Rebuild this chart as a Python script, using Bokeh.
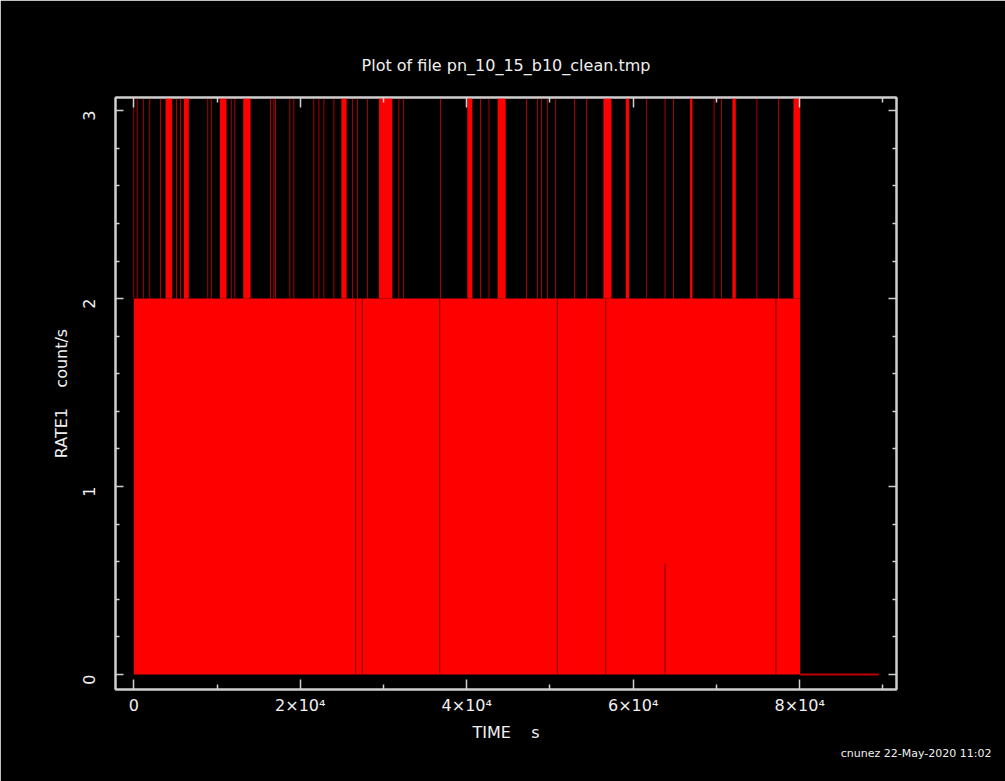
from bokeh.plotting import figure
from bokeh.models import Range1d, FixedTicker, LinearAxis, CustomJSTickFormatter, Title
from bokeh.embed import file_html
from bokeh.resources import INLINE

# ---- data ----
# main plateau level (count/s) between start/stop times (s)
seg_start = [0.0, 80050.0]
seg_stop = [80050.0, 89500.0]
seg_rate = [2.0, 0.0]

# bins with rate above the top of the plot (>= 3 count/s), start/stop times (s)
spike_start = [-40, 360, 1090, 1880, 3170, 3810, 5090, 5570, 6010, 8850, 9260, 10340,
               11660, 12100, 13150, 16390, 16790, 16990, 18710, 19190, 21590, 22200,
               22800, 24000, 24930, 26210, 26810, 28010, 29450, 31810, 32340, 36820,
               40070, 41630, 42630, 43710, 47160, 48440, 48960, 49650, 50650, 52930,
               54370, 56420, 59100, 61530, 63780, 64790, 66830, 69670, 70560, 71920,
               74820, 77410, 79250]
spike_stop = [40, 440, 1170, 1960, 3250, 4620, 5170, 5650, 6610, 8930, 9340, 11140,
              11740, 12180, 14030, 16470, 16870, 17070, 18790, 19270, 21670, 22280,
              22880, 24080, 25570, 26290, 26890, 28090, 31060, 31890, 32420, 36900,
              40670, 41710, 42710, 44680, 47240, 48520, 49040, 49730, 50730, 53010,
              54450, 57380, 59500, 61610, 63860, 64870, 67110, 69750, 70640, 72320,
              74900, 77490, 80050]
spike_rate = [3.2] * len(spike_start)

# short drops of the rate (gaps), time (s) and rate range
dip_time = [26650, 27450, 36740, 50890, 56690, 63820, 77130]
dip_low = [0, 0, 0, 0, 0, 0, 0]
dip_high = [2.0, 2.0, 2.0, 2.0, 2.0, 0.59, 2.0]

x_major = [0, 20000, 40000, 60000, 80000]
x_minor = [10000, 30000, 50000, 70000, 90000]
y_major = [0, 1, 2, 3]
y_minor = [0.2, 0.4, 0.6, 0.8, 1.2, 1.4, 1.6, 1.8, 2.2, 2.4, 2.6, 2.8]

GRID = "#cfcfcf"
TXT = "#f0f0f0"
RED = "#ff0000"
FONT = "DejaVu Sans"
SP = "\u00a0"

p = figure(width=1005, height=781, output_backend="svg", toolbar_location=None,
           x_range=Range1d(-2200, 91630), y_range=Range1d(-0.08, 3.07),
           x_axis_type=None, y_axis_type=None,
           background_fill_color="black", border_fill_color="black",
           min_border_left=115, min_border_right=109, min_border_top=97,
           min_border_bottom=92)
p.grid.visible = False
p.outline_line_color = GRID
p.outline_line_width = 2

# plateau
p.quad(left=seg_start[:1], right=seg_stop[:1], bottom=[0], top=seg_rate[:1],
       fill_color=RED, line_color=None)
# zero level after the end of the exposure
p.segment(x0=seg_start[1:], x1=seg_stop[1:], y0=seg_rate[1:], y1=seg_rate[1:],
          line_color="#c00000", line_width=2)
# spikes above 2
p.quad(left=spike_start, right=spike_stop, bottom=[2.0] * len(spike_start), top=spike_rate,
       fill_color=RED, line_color=None)
# dips
p.segment(x0=dip_time, x1=dip_time, y0=dip_low, y1=dip_high, line_color="#8a0000",
          line_width=1.2)

xfmt = CustomJSTickFormatter(code="""
const m = {0: "0", 20000: "2\u00d710\u2074", 40000: "4\u00d710\u2074",
           60000: "6\u00d710\u2074", 80000: "8\u00d710\u2074"};
return (tick in m) ? m[tick] : "";
""")
blank = CustomJSTickFormatter(code="return '';")


def style(ax, maj, mino):
    ax.axis_line_color = GRID
    ax.axis_line_width = 2
    ax.major_tick_line_color = GRID
    ax.minor_tick_line_color = GRID
    ax.major_tick_line_width = 1.5
    ax.minor_tick_line_width = 1.5
    ax.major_tick_in = maj
    ax.major_tick_out = 0
    ax.minor_tick_in = mino
    ax.minor_tick_out = 0
    ax.major_label_text_color = TXT
    ax.major_label_text_font = FONT
    ax.major_label_text_font_size = "16px"
    ax.axis_label_text_color = TXT
    ax.axis_label_text_font = FONT
    ax.axis_label_text_font_size = "16px"
    ax.axis_label_text_font_style = "normal"


xb = LinearAxis(ticker=FixedTicker(ticks=x_major, minor_ticks=x_minor), formatter=xfmt,
                axis_label="TIME" + SP * 4 + "s")
style(xb, 10, 5)
xb.major_label_standoff = 6
xb.axis_label_standoff = 5
p.add_layout(xb, "below")

yl = LinearAxis(ticker=FixedTicker(ticks=y_major, minor_ticks=y_minor),
                axis_label="RATE1" + SP * 4 + "count/s")
style(yl, 8, 4)
yl.major_label_orientation = 1.5708
yl.major_label_standoff = 26
yl.axis_label_standoff = 4
p.add_layout(yl, "left")

xt = LinearAxis(ticker=FixedTicker(ticks=x_major, minor_ticks=x_minor), formatter=blank)
style(xt, 10, 5)
xt.major_label_text_font_size = "0px"
xt.major_label_standoff = 0
p.add_layout(xt, "above")

yr = LinearAxis(ticker=FixedTicker(ticks=y_major, minor_ticks=y_minor), formatter=blank)
style(yr, 8, 4)
yr.major_label_text_font_size = "0px"
yr.major_label_standoff = 0
p.add_layout(yr, "right")

p.title.text = "Plot of file pn_10_15_b10_clean.tmp"
p.title.align = "center"
p.title.text_color = TXT
p.title.text_font = FONT
p.title.text_font_size = "16px"
p.title.text_font_style = "normal"
p.title.standoff = 46

foot = Title(text="cnunez 22-May-2020 11:02", align="right", offset=-95,
             text_color=TXT, text_font=FONT, text_font_size="11px",
             text_font_style="normal", standoff=0)
p.add_layout(foot, "below")

open("out.html", "w").write(file_html(p, INLINE))
